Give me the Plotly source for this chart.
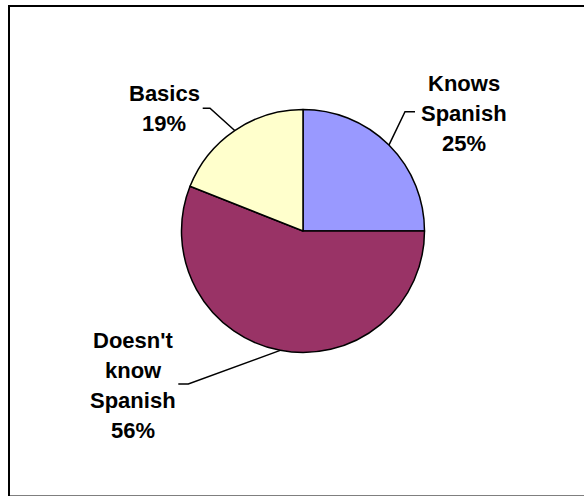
import math
import plotly.graph_objects as go

# data
labels = ["Knows Spanish", "Doesn't know Spanish", "Basics"]
label_lines = [["Knows", "Spanish"], ["Doesn't", "know", "Spanish"], ["Basics"]]
values = [25, 56, 19]
colors = ["#9999FF", "#993366", "#FFFFCC"]

W, H = 584, 496
CX, CY, R = 303, 231, 121.5   # pie centre / radius in pixels
LINE_H = 30                   # label line spacing

# label block centres and leader-line elbows (pixels)
label_pos = [(463.5, 113.3), (133.3, 385.0), (164.0, 108.3)]
elbows = [((415, 111.7), (405, 111.7)),
          ((178.3, 384), (188.3, 384)),
          ((202.7, 108.3), (210, 108.3))]


def px(x):
    return x / W


def py(y):
    return 1 - y / H


fig = go.Figure(go.Pie(
    labels=labels, values=values, sort=False,
    direction="clockwise", rotation=0,
    marker=dict(colors=colors, line=dict(color="black", width=1.5)),
    textinfo="none", hoverinfo="label+percent", showlegend=False,
    domain=dict(x=[px(CX - R), px(CX + R)], y=[py(CY + R), py(CY - R)]),
))

# labels + leader lines to the slice mid-angles
total = sum(values)
cum = 0
shapes = []
annotations = []
for i, v in enumerate(values):
    mid = (cum + v / 2) / total * 2 * math.pi
    cum += v
    rx = CX + R * math.sin(mid)
    ry = CY - R * math.cos(mid)
    (x0, y0), (x1, y1) = elbows[i]
    shapes.append(dict(
        type="path", xref="paper", yref="paper",
        path=f"M {px(x0)},{py(y0)} L {px(x1)},{py(y1)} L {px(rx)},{py(ry)}",
        line=dict(color="black", width=1.5),
    ))
    lines = label_lines[i] + [f"{round(v / total * 100)}%"]
    lx, ly = label_pos[i]
    top = ly - LINE_H * (len(lines) - 1) / 2
    for k, t in enumerate(lines):
        annotations.append(dict(
            text=f"<b>{t}</b>",
            x=px(lx), y=py(top + k * LINE_H), xref="paper", yref="paper",
            xanchor="center", yanchor="middle",
            showarrow=False,
            font=dict(family="Liberation Sans, Arial, sans-serif", size=22, color="black"),
        ))

# outer chart border (bottom edge mostly cut off, like the reference)
shapes.append(dict(
    type="rect", xref="paper", yref="paper",
    x0=px(9), x1=px(592), y0=py(496.6), y1=py(6),
    line=dict(color="black", width=2),
))

fig.update_layout(
    width=W, height=H,
    margin=dict(l=0, r=0, t=0, b=0),
    paper_bgcolor="white",
    plot_bgcolor="white",
    shapes=shapes,
    annotations=annotations,
)

fig.write_html("out.html", config={"displayModeBar": False},
               post_script="document.body.style.margin='0';")
